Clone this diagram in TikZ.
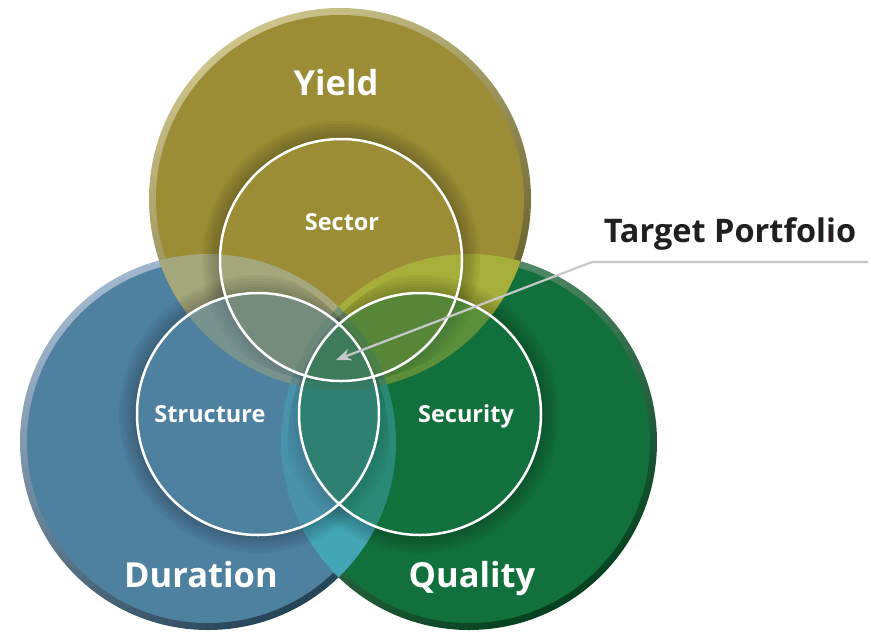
\documentclass[tikz,border=0pt]{standalone}
\usepackage{fontspec}
\setmainfont{Open Sans}
\usetikzlibrary{arrows.meta}
\definecolor{yieldcol}{RGB}{154,141,53}
\definecolor{yieldhi}{RGB}{205,196,140}
\definecolor{yieldlo}{RGB}{95,88,35}
\definecolor{durcol}{RGB}{78,128,160}
\definecolor{durhi}{RGB}{160,182,205}
\definecolor{durlo}{RGB}{38,68,88}
\definecolor{qualcol}{RGB}{18,112,60}
\definecolor{qualhi}{RGB}{95,150,115}
\definecolor{quallo}{RGB}{5,65,30}
\definecolor{ydcol}{RGB}{164,168,124}
\definecolor{yqcol}{RGB}{165,175,58}
\definecolor{dqcol}{RGB}{68,165,180}
\definecolor{ydqcol}{RGB}{118,146,116}
\definecolor{leadercol}{RGB}{200,200,200}
\definecolor{inkcol}{RGB}{35,31,32}
\tikzset{%
  biglabel/.style   = {anchor=base, inner sep=0pt, text=white,%
                       font=\fontsize{34.5}{40}\selectfont\bfseries},%
  smalllabel/.style = {biglabel, font=\fontsize{23.5}{28}\selectfont\bfseries},%
  callout/.style    = {biglabel, text=inkcol,%
                       font=\fontsize{32.5}{36}\selectfont\bfseries},%
  ring/.style       = {draw=white, line width=2.5pt},%
  halo/.style       = {fill=black, opacity=0.04, even odd rule},%
  leader/.style     = {draw=leadercol, line width=2.2pt,%
                       -{Stealth[length=15pt,width=12pt]}}%
}
\begin{document}
\begin{tikzpicture}[x=1pt,y=-1pt]
  \useasboundingbox (0,0) rectangle (871,633);
  % centres of the big and the small circles
  \coordinate (yc) at (340,199);
  \coordinate (dc) at (208,442);
  \coordinate (qc) at (469,442);
  \coordinate (sc) at (341,260);
  \coordinate (tc) at (258,414);
  \coordinate (cc) at (420,414);
  % big circles with a bevelled rim
  \shade[top color=durhi, bottom color=durlo, shading angle=30] (dc) circle (188);
  \fill[durcol] (dc) circle (181);
  \shade[top color=qualhi, bottom color=quallo, shading angle=30] (qc) circle (188);
  \fill[qualcol] (qc) circle (181);
  \shade[top color=yieldhi, bottom color=yieldlo, shading angle=30] (yc) circle (191);
  \fill[yieldcol] (yc) circle (184);
  % overlaps
  \begin{scope}
    \clip (yc) circle (191);
    \fill[ydcol] (dc) circle (188);
    \fill[yqcol] (qc) circle (188);
    \clip (dc) circle (188);
    \fill[ydqcol] (qc) circle (188);
  \end{scope}
  \begin{scope}
    \clip (dc) circle (188);
    \clip (qc) circle (188);
    \fill[dqcol, even odd rule] (0,0) rectangle (871,633) (yc) circle (191);
  \end{scope}
  % soft shadows round the small circles
  \begin{scope}
    \clip (yc) circle (184);
    \foreach \k in {3,6,...,18}
      \fill[halo] (sc) circle (121) circle (121+\k);
  \end{scope}
  \begin{scope}
    \clip (dc) circle (181);
    \foreach \k in {3,6,...,18}
      \fill[halo] (tc) circle (121) circle (121+\k);
  \end{scope}
  \begin{scope}
    \clip (qc) circle (181);
    \foreach \k in {3,6,...,18}
      \fill[halo] (cc) circle (121) circle (121+\k);
  \end{scope}
  % small circles
  \begin{scope}
    \clip (tc) circle (121) (cc) circle (121);
    \fill[yieldcol, opacity=0.5] (sc) circle (121);
  \end{scope}
  \fill[durcol, opacity=0.5] (tc) circle (121);
  \fill[qualcol, opacity=0.5] (cc) circle (121);
  \draw[ring] (sc) circle (121);
  \draw[ring] (tc) circle (121);
  \draw[ring] (cc) circle (121);
  % labels
  \node[biglabel] (yieldlbl) at (336,95) {Yield};
  \node[biglabel] (durationlbl) at (201,587) {Duration};
  \node[biglabel] (qualitylbl) at (472,587) {Quality};
  \node[smalllabel] (sectorlbl) at (342,230) {Sector};
  \node[smalllabel] (structurelbl) at (210,422) {Structure};
  \node[smalllabel] (securitylbl) at (466,422) {Security};
  \node[callout] (targetlbl) at (730,242) {Target Portfolio};
  % leader to the centre
  \coordinate (lineend) at (868,262);
  \coordinate (bend) at (592,262);
  \coordinate (core) at (336,360);
  \draw[leader] (lineend) -- (bend) -- (core);
\end{tikzpicture}
\end{document}
